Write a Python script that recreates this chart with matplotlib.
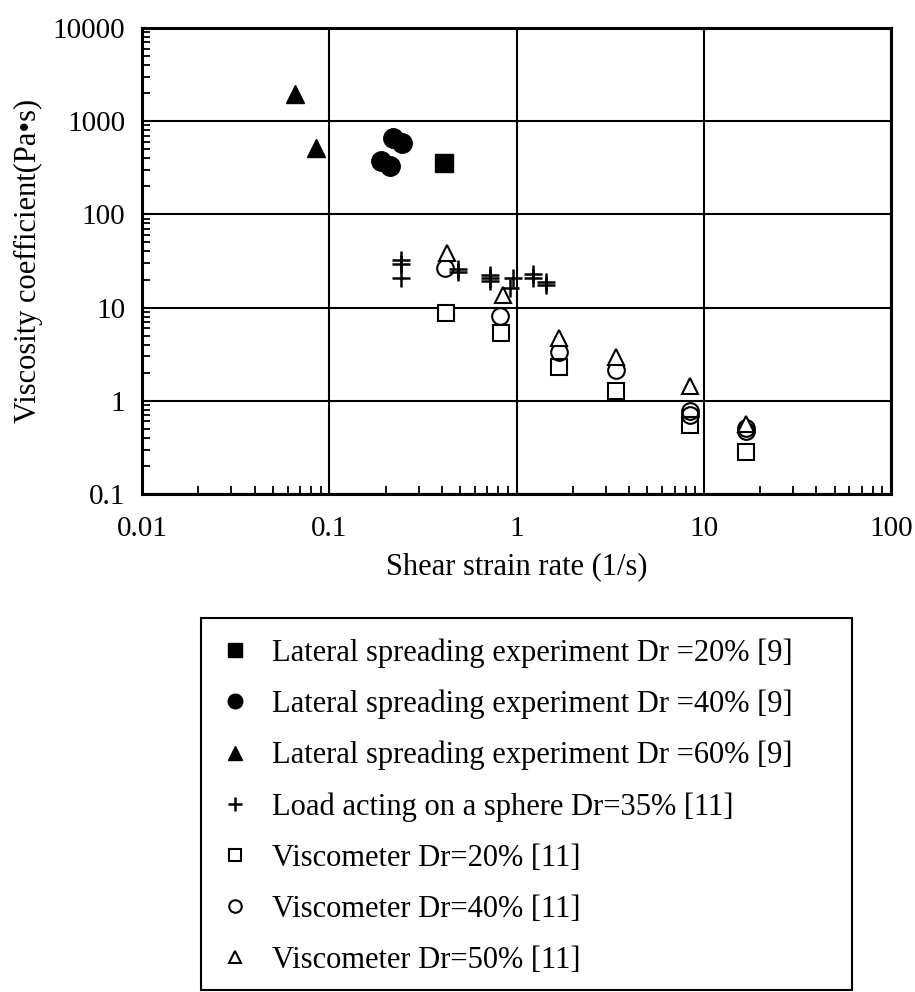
import matplotlib
matplotlib.use("Agg")
import matplotlib.pyplot as plt
from matplotlib.patches import Rectangle
from matplotlib.ticker import LogLocator, FixedLocator, FixedFormatter

plt.rcParams['font.family'] = ['Liberation Serif', 'DejaVu Serif']

# Lateral spreading experiments [9]
lat20_x = [0.41]
lat20_y = [359]
lat40_x = [0.220, 0.244, 0.190, 0.211]
lat40_y = [656, 579, 374, 333]
lat60_x = [0.066, 0.085]
lat60_y = [1958, 512]

# Load acting on a sphere, Dr=35% [11]
sph_x = [0.241, 0.241, 0.241, 0.489, 0.489, 0.722, 0.722, 0.722, 0.962, 0.923, 1.229, 1.229, 1.437, 1.437]
sph_y = [32.4, 29.2, 20.6, 25.9, 23.9, 22.4, 20.6, 19.3, 20.6, 16.4, 22.8, 20.6, 19.0, 17.5]

# Viscometer [11]
vis20_x = [0.42, 0.83, 1.69, 3.39, 8.45, 16.9]
vis20_y = [8.8, 5.4, 2.32, 1.28, 0.55, 0.284]
vis40_x = [0.417, 0.82, 1.69, 3.39, 8.45, 8.45, 16.9, 16.9]
vis40_y = [26.4, 8.1, 3.37, 2.14, 0.78, 0.70, 0.51, 0.48]
vis50_x = [0.424, 0.85, 1.69, 3.39, 8.45, 16.9]
vis50_y = [38.3, 13.6, 4.7, 2.97, 1.45, 0.57]

labels = [
    "Lateral spreading experiment Dr =20% [9]",
    "Lateral spreading experiment Dr =40% [9]",
    "Lateral spreading experiment Dr =60% [9]",
    "Load acting on a sphere Dr=35% [11]",
    "Viscometer Dr=20% [11]",
    "Viscometer Dr=40% [11]",
    "Viscometer Dr=50% [11]",
]
x_ticks = [0.01, 0.1, 1, 10, 100]
x_ticklabels = ["0.01", "0.1", "1", "10", "100"]
y_ticks = [0.1, 1, 10, 100, 1000, 10000]
y_ticklabels = ["0.1", "1", "10", "100", "1000", "10000"]

W, H = 915, 992
fig = plt.figure(figsize=(W / 100, H / 100), dpi=100)
ax = fig.add_axes([142 / W, 1 - 494 / H, (891 - 142) / W, (494 - 28) / H])
ax.set_xscale('log')
ax.set_yscale('log')
ax.set_xlim(0.01, 100)
ax.set_ylim(0.1, 10000)

ax.grid(True, which='major', color='black', linewidth=1.5)
ax.set_axisbelow(True)
for sp in ax.spines.values():
    sp.set_linewidth(2.2)

ax.xaxis.set_major_locator(FixedLocator(x_ticks))
ax.xaxis.set_major_formatter(FixedFormatter(x_ticklabels))
ax.yaxis.set_major_locator(FixedLocator(y_ticks))
ax.yaxis.set_major_formatter(FixedFormatter(y_ticklabels))
ax.xaxis.set_minor_locator(LogLocator(base=10, subs=range(2, 10), numticks=20))
ax.yaxis.set_minor_locator(LogLocator(base=10, subs=range(2, 10), numticks=20))
ax.tick_params(which='major', length=0, labelsize=21)
ax.tick_params(axis='y', which='major', pad=12)
ax.tick_params(axis='x', which='major', pad=16)
ax.tick_params(which='minor', direction='in', length=6, width=1.3,
               top=False, right=False, labelleft=False, labelbottom=False)

ms = 13
lw = 1.5
h = []
h += ax.plot(lat20_x, lat20_y, 's', ms=ms, color='black', label=labels[0])
h += ax.plot(lat40_x, lat40_y, 'o', ms=ms + 1, color='black', label=labels[1])
h += ax.plot(lat60_x, lat60_y, '^', ms=ms, color='black', label=labels[2])
h += ax.plot(sph_x, sph_y, '+', ms=ms, mew=1.8, color='black', label=labels[3])
h += ax.plot(vis20_x, vis20_y, 's', ms=ms - 1, mfc='white', mec='black', mew=lw, label=labels[4])
h += ax.plot(vis40_x, vis40_y, 'o', ms=ms - 1, mfc='white', mec='black', mew=lw, label=labels[5])
h += ax.plot(vis50_x, vis50_y, '^', ms=ms - 1, mfc='white', mec='black', mew=lw, label=labels[6])
# triangles drawn on top of circles like the original
h[6].set_zorder(h[5].get_zorder() + 0.1)
h[5].set_mfc('none')

ax.set_xlabel("Shear strain rate (1/s)", fontsize=22, labelpad=7)
ax.set_ylabel("Viscosity coefficient(Pa\u2022s)", fontsize=22, labelpad=7)

# legend box frame (bottom runs off the page)
fig.patches.append(Rectangle((201 / W, 1 - 990 / H), (852 - 201) / W, (990 - 618) / H,
                             transform=fig.transFigure, fill=False,
                             edgecolor='black', linewidth=1.5))
fig.legend(handles=h, labels=labels, loc='upper left',
           bbox_to_anchor=(223 / W, 1 - 638 / H), frameon=False,
           fontsize=22, markerscale=0.75, handlelength=0.8, handletextpad=0.8,
           labelspacing=0.72, borderpad=0, borderaxespad=0)

fig.savefig("out.png", dpi=100, facecolor='white')
